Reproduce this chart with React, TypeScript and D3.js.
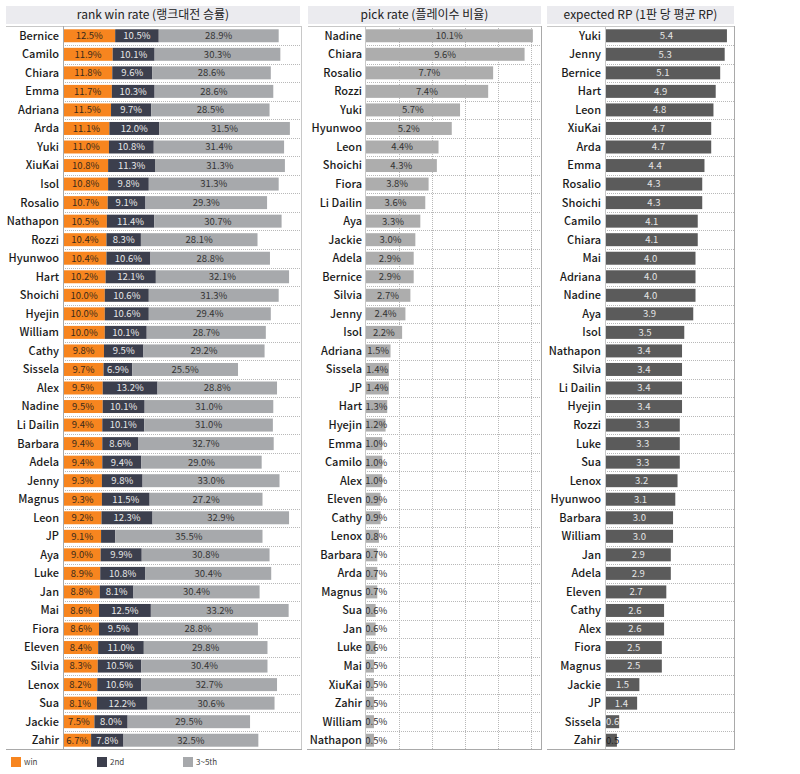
import React from 'react';
import * as d3 from 'd3';

// ---- rank win rate panel ----
const winNames = ['Bernice','Camilo','Chiara','Emma','Adriana','Arda','Yuki','XiuKai','Isol','Rosalio','Nathapon','Rozzi','Hyunwoo','Hart','Shoichi','Hyejin','William','Cathy','Sissela','Alex','Nadine','Li Dailin','Barbara','Adela','Jenny','Magnus','Leon','JP','Aya','Luke','Jan','Mai','Fiora','Eleven','Silvia','Lenox','Sua','Jackie','Zahir'];
const winRate = [12.5,11.9,11.8,11.7,11.5,11.1,11.0,10.8,10.8,10.7,10.5,10.4,10.4,10.2,10.0,10.0,10.0,9.8,9.7,9.5,9.5,9.4,9.4,9.4,9.3,9.3,9.2,9.1,9.0,8.9,8.8,8.6,8.6,8.4,8.3,8.2,8.1,7.5,6.7];
const secondRate = [10.5,10.1,9.6,10.3,9.7,12.0,10.8,11.3,9.8,9.1,11.4,8.3,10.6,12.1,10.6,10.6,10.1,9.5,6.9,13.2,10.1,10.1,8.6,9.4,9.8,11.5,12.3,3.4,9.9,10.8,8.1,12.5,9.5,11.0,10.5,10.6,12.2,8.0,7.8];
const thirdFifthRate = [28.9,30.3,28.6,28.6,28.5,31.5,31.4,31.3,31.3,29.3,30.7,28.1,28.8,32.1,31.3,29.4,28.7,29.2,25.5,28.8,31.0,31.0,32.7,29.0,33.0,27.2,32.9,35.5,30.8,30.4,30.4,33.2,28.8,29.8,30.4,32.7,30.6,29.5,32.5];

// ---- pick rate panel ----
const pickNames = ['Nadine','Chiara','Rosalio','Rozzi','Yuki','Hyunwoo','Leon','Shoichi','Fiora','Li Dailin','Aya','Jackie','Adela','Bernice','Silvia','Jenny','Isol','Adriana','Sissela','JP','Hart','Hyejin','Emma','Camilo','Alex','Eleven','Cathy','Lenox','Barbara','Arda','Magnus','Sua','Jan','Luke','Mai','XiuKai','Zahir','William','Nathapon'];
const pickRate = [10.1,9.6,7.7,7.4,5.7,5.2,4.4,4.3,3.8,3.6,3.3,3.0,2.9,2.9,2.7,2.4,2.2,1.5,1.4,1.4,1.3,1.2,1.0,1.0,1.0,0.9,0.9,0.8,0.7,0.7,0.7,0.6,0.6,0.6,0.5,0.5,0.5,0.5,0.5];
const pickTicks = [2,4,6,8,10];

// ---- expected RP panel ----
const rpNames = ['Yuki','Jenny','Bernice','Hart','Leon','XiuKai','Arda','Emma','Rosalio','Shoichi','Camilo','Chiara','Mai','Adriana','Nadine','Aya','Isol','Nathapon','Silvia','Li Dailin','Hyejin','Rozzi','Luke','Sua','Lenox','Hyunwoo','Barbara','William','Jan','Adela','Eleven','Cathy','Alex','Fiora','Magnus','Jackie','JP','Sissela','Zahir'];
const rpValues = [5.4,5.3,5.1,4.9,4.8,4.7,4.7,4.4,4.3,4.3,4.1,4.1,4.0,4.0,4.0,3.9,3.5,3.4,3.4,3.4,3.4,3.3,3.3,3.3,3.2,3.1,3.0,3.0,2.9,2.9,2.7,2.6,2.6,2.5,2.5,1.5,1.4,0.6,0.5];

const panelTitles = ['rank win rate (랭크대전 승률)', 'pick rate (플레이수 비율)', 'expected RP (1판 당 평균 RP)'];
const legendLabels = ['win', '2nd', '3~5th'];

const C_WIN = '#f7851f';
const C_2ND = '#3c3f4d';
const C_35 = '#a7a9ac';
const C_PICK = '#adadad';
const C_RP = '#5b5b5b';
const C_HEADER = '#ebebef';
const C_BORDER = '#a9a9a9';
const C_DOT = '#b8b8b8';
const FONT = '"Noto Sans CJK KR", "Noto Sans", sans-serif';

const TOP = 26.5;
const BOTTOM = 749.5;

function rowBand(domain: string[]) {
  return d3.scaleBand<string>().domain(domain).range([TOP, BOTTOM]).paddingInner(0.3).paddingOuter(0.15);
}

function RowLines({ y, x0, x1, n }: { y: d3.ScaleBand<string>; x0: number; x1: number; n: number }) {
  const step = y.step();
  const lines = d3.range(1, n).map((k) => TOP + k * step);
  return (
    <g>
      {lines.map((ly, i) => (
        <line key={i} x1={x0} x2={x1} y1={Math.round(ly) + 0.5} y2={Math.round(ly) + 0.5} stroke={C_DOT} strokeDasharray="1,1" strokeWidth={1} />
      ))}
    </g>
  );
}

function Names({ y, names, xr }: { y: d3.ScaleBand<string>; names: string[]; xr: number }) {
  return (
    <g>
      {names.map((n) => (
        <text key={n} x={xr} y={(y(n) as number) + y.bandwidth() / 2} dy="0.36em" textAnchor="end" fontSize={11} fontWeight={500} fill="#1a1a1a" fontFamily={FONT}>
          {n}
        </text>
      ))}
    </g>
  );
}

function Header({ x0, x1, title }: { x0: number; x1: number; title: string }) {
  return (
    <g>
      <rect x={x0} y={6} width={x1 - x0} height={18} fill={C_HEADER} />
      <text x={(x0 + x1) / 2} y={15} dy="0.36em" textAnchor="middle" fontSize={12} fill="#222" fontFamily={FONT}>
        {title}
      </text>
    </g>
  );
}

export default function App() {
  // left panel
  const yL = rowBand(winNames);
  const xL = d3.scaleLinear().domain([0, 56]).range([63.3, 63.3 + 56 * 4.15]);
  const stack = winNames.map((n, i) => {
    const a = winRate[i], b = secondRate[i], c = thirdFifthRate[i];
    return [
      { key: 'win', v0: 0, v1: a, v: a, color: C_WIN, tc: '#3a2a1a' },
      { key: '2nd', v0: a, v1: a + b, v: b, color: C_2ND, tc: '#e8e8e8' },
      { key: '35', v0: a + b, v1: a + b + c, v: c, color: C_35, tc: '#333' },
    ].map((s) => ({ ...s, name: n }));
  });

  // middle panel
  const yM = rowBand(pickNames);
  const xM = d3.scaleLinear().domain([0, 10.6]).range([365.7, 365.7 + 10.6 * 16.55]);

  // right panel
  const yR = rowBand(rpNames);
  const xR = d3.scaleLinear().domain([0, 5.75]).range([605.7, 605.7 + 5.75 * 22.45]);

  const fmtPct = (v: number) => d3.format('.1f')(v) + '%';
  const fmt1 = d3.format('.1f');

  const legendColors = [C_WIN, C_2ND, C_35];
  const legendX = [11, 97, 183];

  return (
    <svg width={800} height={774} style={{ position: 'absolute', left: 0, top: 0, background: '#fff' }} fontFamily={FONT}>
      <rect x={0} y={0} width={800} height={774} fill="#fff" />

      {/* ===== Left panel ===== */}
      <Header x0={6} x1={300} title={panelTitles[0]} />
      <RowLines y={yL} x0={63} x1={301} n={winNames.length} />
      {stack.map((segs, i) => (
        <g key={i}>
          {segs.map((s) => {
            const x0 = xL(s.v0), x1 = xL(s.v1);
            const w = x1 - x0;
            const yy = yL(s.name) as number;
            return (
              <g key={s.key}>
                <rect x={x0} y={yy} width={w} height={yL.bandwidth()} fill={s.color} />
                {w > 20 && (
                  <text x={(x0 + x1) / 2} y={yy + yL.bandwidth() / 2} dy="0.36em" textAnchor="middle" fontSize={9.5} fill={s.tc}>
                    {fmtPct(s.v)}
                  </text>
                )}
              </g>
            );
          })}
        </g>
      ))}
      <Names y={yL} names={winNames} xr={59} />
      <line x1={6} x2={301} y1={26.5} y2={26.5} stroke="#c8c8c8" />
      <line x1={63.5} x2={63.5} y1={26} y2={749} stroke={C_BORDER} />
      <line x1={301.5} x2={301.5} y1={26} y2={749} stroke="#c8c8c8" />
      <line x1={6} x2={302} y1={749.5} y2={749.5} stroke={C_BORDER} />

      {/* ===== Middle panel ===== */}
      <Header x0={308} x1={541} title={panelTitles[1]} />
      <RowLines y={yM} x0={365} x1={541} n={pickNames.length} />
      {pickTicks.map((t) => (
        <line key={t} x1={Math.round(xM(t)) + 0.5} x2={Math.round(xM(t)) + 0.5} y1={26} y2={749} stroke={C_DOT} strokeDasharray="1,1" />
      ))}
      {pickNames.map((n, i) => {
        const yy = yM(n) as number;
        const w = xM(pickRate[i]) - xM(0);
        const lx = Math.max(xM(0) + w / 2, xM(0) + 10.5);
        return (
          <g key={n}>
            <rect x={xM(0)} y={yy} width={w} height={yM.bandwidth()} fill={C_PICK} />
            <text x={lx} y={yy + yM.bandwidth() / 2} dy="0.36em" textAnchor="middle" fontSize={9.5} fill="#333">
              {fmtPct(pickRate[i])}
            </text>
          </g>
        );
      })}
      <Names y={yM} names={pickNames} xr={362} />
      <line x1={308} x2={542} y1={26.5} y2={26.5} stroke="#c8c8c8" />
      <line x1={365.5} x2={365.5} y1={26} y2={749} stroke="#c8c8c8" />
      <line x1={541.5} x2={541.5} y1={26} y2={750} stroke={C_BORDER} />
      <line x1={307} x2={542} y1={749.5} y2={749.5} stroke={C_BORDER} />

      {/* ===== Right panel ===== */}
      <Header x0={547} x1={734} title={panelTitles[2]} />
      <RowLines y={yR} x0={605} x1={734} n={rpNames.length} />
      {rpNames.map((n, i) => {
        const yy = yR(n) as number;
        const w = xR(rpValues[i]) - xR(0);
        const lx = Math.max(xR(0) + w / 2, xR(0) + 7);
        return (
          <g key={n}>
            <rect x={xR(0)} y={yy} width={w} height={yR.bandwidth()} fill={C_RP} />
            <text x={lx} y={yy + yR.bandwidth() / 2} dy="0.36em" textAnchor="middle" fontSize={9.5} fill={w < 12 ? '#222' : '#e6e6e6'}>
              {fmt1(rpValues[i])}
            </text>
          </g>
        );
      })}
      <Names y={yR} names={rpNames} xr={601} />
      <line x1={547} x2={735} y1={26.5} y2={26.5} stroke="#c8c8c8" />
      <line x1={605.5} x2={605.5} y1={26} y2={749} stroke="#c8c8c8" />
      <line x1={734.5} x2={734.5} y1={26} y2={750} stroke={C_BORDER} />
      <line x1={547} x2={735} y1={749.5} y2={749.5} stroke={C_BORDER} />

      {/* ===== Legend ===== */}
      {legendLabels.map((l, i) => (
        <g key={l}>
          <rect x={legendX[i]} y={757} width={10} height={10} fill={legendColors[i]} />
          <text x={legendX[i] + 13} y={762} dy="0.36em" fontSize={8} fill="#444">
            {l}
          </text>
        </g>
      ))}
    </svg>
  );
}
